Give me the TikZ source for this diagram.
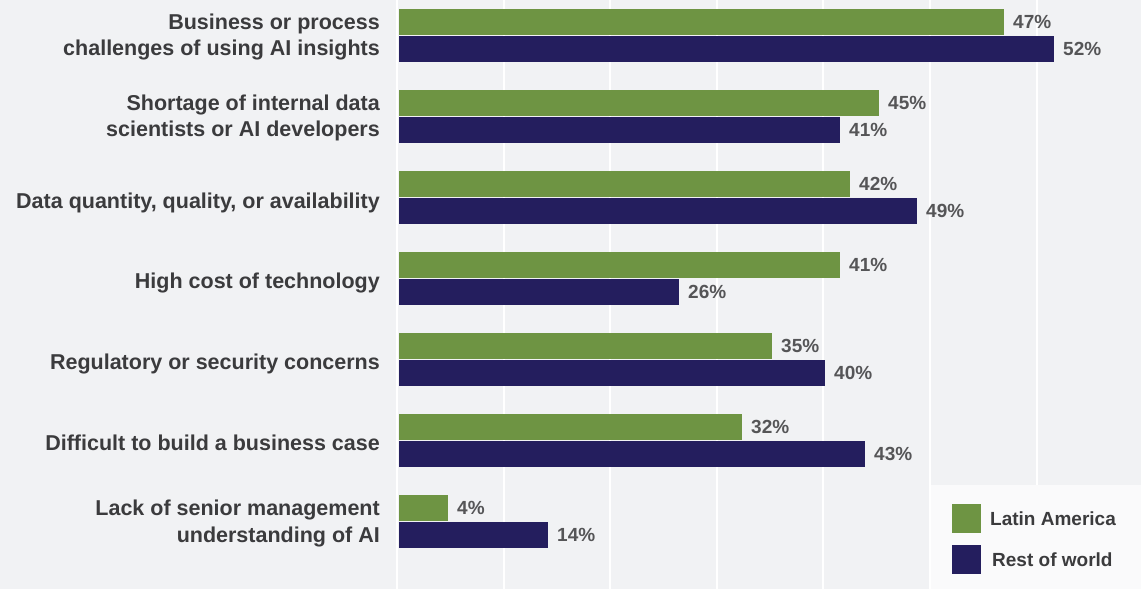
\documentclass[tikz,border=0pt]{standalone}
\usepackage{fontspec}
\setmainfont{Liberation Sans}
\usetikzlibrary{positioning}
\definecolor{bggray}{HTML}{F1F2F4}
\definecolor{keywhite}{HTML}{FAFAFB}
\definecolor{latamgreen}{HTML}{6E9443}
\definecolor{restnavy}{HTML}{241E5E}
\definecolor{labelgray}{HTML}{3B3B3D}
\definecolor{pctgray}{HTML}{555557}
\tikzset{
  catlabel/.style={anchor=east,align=right,inner sep=0pt,text=labelgray,
    font=\bfseries\fontsize{21.5}{26.5}\selectfont},
  pctlabel/.style={anchor=west,inner sep=0pt,text=pctgray,
    font=\bfseries\fontsize{19}{20}\selectfont},
  keylabel/.style={anchor=west,inner sep=0pt,text=labelgray,
    font=\bfseries\fontsize{19}{22}\selectfont},
  latambar/.style={fill=latamgreen,inner sep=0pt,outer sep=0pt,anchor=north west},
  restbar/.style={fill=restnavy,inner sep=0pt,outer sep=0pt,anchor=north west},
  gridline/.style={white,line width=1.5pt}
}
\begin{document}
\begin{tikzpicture}[x=1pt,y=-1pt]
\useasboundingbox[fill=bggray] (0,0) rectangle (1141,589);
% grid and axis
\foreach \gx in {504,610,717,823,930,1037}
  \draw[gridline] (\gx,0) -- (\gx,589);
\draw[gridline,line width=2pt] (397,0) -- (397,589);
% bars: k / label / label offset / green end / green pct / navy end / navy pct
\foreach \k/\lab/\dy/\ea/\pa/\eb/\pb in {
  1/{Business or process\\challenges of using AI insights}/28/1004/47/1054/52,
  2/{Shortage of internal data\\scientists or AI developers}/28/879/45/840/41,
  3/{Data quantity, quality, or availability}/31.5/850/42/917/49,
  4/{High cost of technology}/31/840/41/679/26,
  5/{Regulatory or security concerns}/31/772/35/825/40,
  6/{Difficult to build a business case}/29/742/32/865/43,
  7/{Lack of senior management\\understanding of AI}/28.5/448/4/548/14}{
  \pgfmathsetmacro\top{9+81*(\k-1)}
  \node (bar-a-\k) [latambar,minimum width=\ea-399,minimum height=26] at (399,\top) {};
  \node (bar-b-\k) [restbar,minimum width=\eb-399,minimum height=26] at (399,\top+27) {};
  \node (cat-\k) [catlabel] at (380,\top+\dy) {\lab};
  \node (pct-a-\k) [pctlabel,right=9pt of bar-a-\k] {\pa\%};
  \node (pct-b-\k) [pctlabel,right=9pt of bar-b-\k] {\pb\%};
}
% legend
\fill[keywhite] (931,485) rectangle (1141,589);
\node (key-a) [latambar,minimum size=29] at (952,504) {};
\node (key-b) [restbar,minimum size=29] at (952,545) {};
\node (key-a-text) [keylabel,right=9pt of key-a] {Latin America};
\node (key-b-text) [keylabel,right=11pt of key-b] {Rest of world};
\end{tikzpicture}
\end{document}
